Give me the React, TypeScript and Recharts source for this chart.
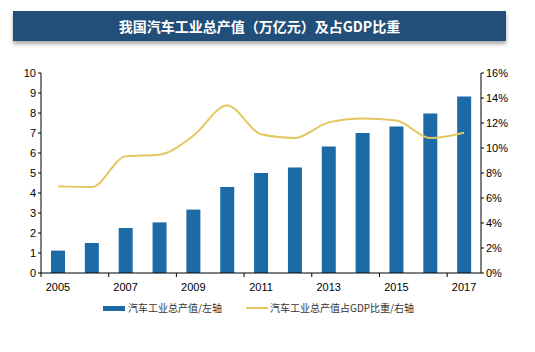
import { ComposedChart, Bar, Line, XAxis, YAxis } from 'recharts'

const YEARS = ['2005', '2006', '2007', '2008', '2009', '2010', '2011', '2012', '2013', '2014', '2015', '2016', '2017']
const OUTPUT = [1.12, 1.5, 2.25, 2.53, 3.17, 4.3, 5.0, 5.27, 6.32, 7.0, 7.33, 7.97, 8.82]
const GDP_SHARE = [6.93, 6.88, 9.33, 9.46, 10.98, 13.4, 11.1, 10.8, 12.05, 12.37, 12.2, 10.8, 11.22]
const LEFT_TICKS = [0, 1, 2, 3, 4, 5, 6, 7, 8, 9, 10]
const RIGHT_TICKS = [0, 2, 4, 6, 8, 10, 12, 14, 16]

const BAR_NAME = '汽车工业总产值/左轴'
const LINE_NAME = '汽车工业总产值占GDP比重/右轴'

const data = YEARS.map((y, i) => ({ year: y, output: OUTPUT[i], share: GDP_SHARE[i] }))

const BLUE = '#1c6ba6'
const GOLD = '#e6c65e'
const FONT = '"Liberation Sans", Arial, sans-serif'
const CJK = '"Noto Sans CJK SC", sans-serif'

const band = 440 / YEARS.length

function YearTick(props: any) {
    const { x, y, payload } = props
    return (
        <g>
            <line x1={x - band / 2} x2={x - band / 2} y1={y - 8} y2={y - 4} stroke="#000" />
            <text x={x} y={y + 10} textAnchor="middle" fontSize={11} fontFamily={FONT} fill="#000">
                {payload.value}
            </text>
        </g>
    )
}

// legend drawn as html so it does not shrink the plot area
function LegendBox() {
    return (
        <div style={{ position: 'absolute', left: 103, top: 301, height: 14, fontSize: 10, fontFamily: CJK, color: '#333', lineHeight: '14px', whiteSpace: 'nowrap' }}>
            <span style={{ position: 'absolute', left: 0, top: 5, width: 22, height: 5, background: BLUE }} />
            <span style={{ position: 'absolute', left: 25, top: 0 }}>{BAR_NAME}</span>
            <span style={{ position: 'absolute', left: 143, top: 6, width: 22, height: 2, background: GOLD }} />
            <span style={{ position: 'absolute', left: 167, top: 0 }}>{LINE_NAME}</span>
        </div>
    )
}

export default function App() {
    return (
        <div style={{ position: 'absolute', left: 0, top: 0, width: 535, height: 352, background: '#fff' }}>
            <div
                style={{
                    position: 'absolute', left: 13, top: 11, width: 493, height: 30,
                    background: '#214f7a', color: '#fff', fontFamily: CJK,
                    fontWeight: 700, fontSize: 14, lineHeight: '30px', textAlign: 'center',
                    boxShadow: '0 3px 4px rgba(0,0,0,0.35)', zIndex: 1,
                }}
            >
                我国汽车工业总产值（万亿元）及占GDP比重
            </div>
            <ComposedChart
                width={535}
                height={352}
                data={data}
                margin={{ top: 73, right: 24, bottom: 34, left: 11 }}
                barCategoryGap={0}
            >
                <XAxis
                    dataKey="year"
                    interval={1}
                    tickLine={false}
                    axisLine={{ stroke: '#000' }}
                    tick={<YearTick />}
                    height={45}
                />
                <YAxis
                    yAxisId="left"
                    domain={[0, 10]}
                    ticks={LEFT_TICKS}
                    width={30}
                    tickSize={3}
                    axisLine={{ stroke: '#000' }}
                    tickLine={{ stroke: '#000' }}
                    tick={{ fontSize: 11, fill: '#000', fontFamily: FONT }}
                    interval={0}
                />
                <YAxis
                    yAxisId="right"
                    orientation="right"
                    domain={[0, 16]}
                    ticks={RIGHT_TICKS}
                    width={30}
                    tickSize={3}
                    axisLine={{ stroke: '#000' }}
                    tickLine={{ stroke: '#000' }}
                    tickFormatter={(v: number) => `${v}%`}
                    tick={{ fontSize: 11, fill: '#000', fontFamily: FONT }}
                    interval={0}
                />
                <Bar yAxisId="left" dataKey="output" name={BAR_NAME} fill={BLUE} barSize={14} isAnimationActive={false} />
                <Line
                    yAxisId="right"
                    dataKey="share"
                    name={LINE_NAME}
                    type="monotone"
                    stroke={GOLD}
                    strokeWidth={2}
                    dot={false}
                    isAnimationActive={false}
                />
            </ComposedChart>
            <LegendBox />
        </div>
    )
}
